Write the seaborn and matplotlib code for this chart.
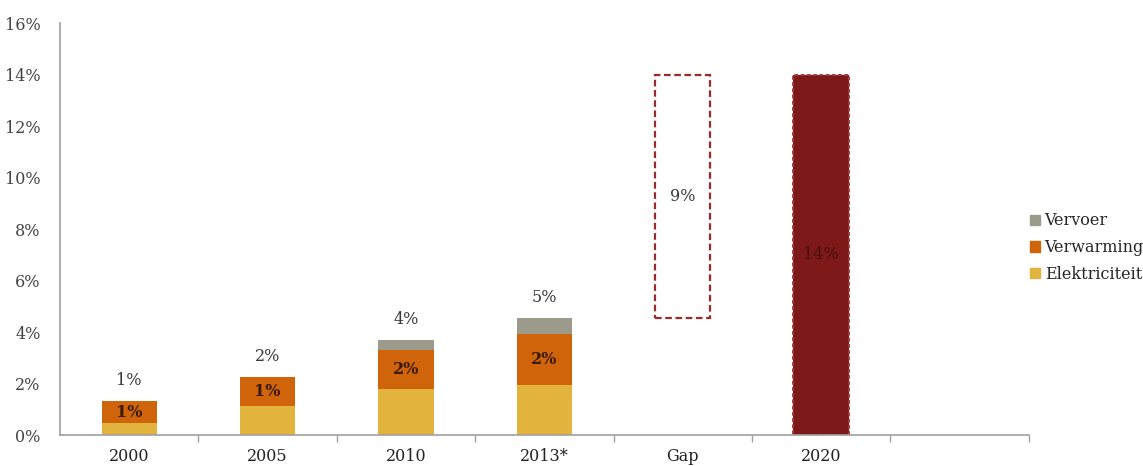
import matplotlib
matplotlib.use("Agg")
import matplotlib.pyplot as plt
from matplotlib.patches import Patch
from matplotlib.ticker import FixedLocator, PercentFormatter
import numpy as np
import pandas as pd
import seaborn as sns

# Share of renewable energy by sector (% of final energy use)
years = ["2000", "2005", "2010", "2013*"]
elektriciteit = [0.45, 1.14, 1.79, 1.94]
verwarming = [0.88, 1.12, 1.52, 1.98]
vervoer = [0.00, 0.00, 0.38, 0.63]
target_2020 = 14.0
categories = years + ["Gap", "2020"]

sns.set_theme(style="white")
plt.rcParams["font.family"] = ["DejaVu Serif", "DejaVu Sans"]

c_elek = "#E2B43E"
c_verw = "#D0640B"
c_verv = "#9C9A8B"
c_2020 = "#7D1919"
c_dash = "#9B2B2B"
txt = "#3A3A3A"

df = pd.DataFrame({"jaar": years, "Elektriciteit": elektriciteit,
                   "Verwarming": verwarming, "Vervoer": vervoer})
elek = np.array(elektriciteit)
verw = np.array(verwarming)
verv = np.array(vervoer)
totals = elek + verw + verv
current = totals[-1]
gap = target_2020 - current

fig = plt.figure(figsize=(11.43, 4.66), dpi=100)
ax = fig.add_axes([0.0525, 0.0665, 0.8475, 0.884])

bw = 0.4
sns.barplot(data=df, x="jaar", y="Elektriciteit", order=categories,
            color=c_elek, width=bw, saturation=1, ax=ax, linewidth=0)
sns.barplot(data=df, x="jaar", y="Verwarming", order=categories,
            color=c_verw, width=bw, saturation=1, ax=ax, linewidth=0,
            bottom=elek)
sns.barplot(data=df, x="jaar", y="Vervoer", order=categories,
            color=c_verv, width=bw, saturation=1, ax=ax, linewidth=0,
            bottom=elek + verw)

gap_df = pd.DataFrame({"jaar": ["Gap"], "waarde": [gap]})
sns.barplot(data=gap_df, x="jaar", y="waarde", order=categories,
            width=bw, fill=False, ax=ax, bottom=current,
            edgecolor=c_dash, linewidth=1.6, linestyle=(0, (3, 1.6)))
tgt_df = pd.DataFrame({"jaar": ["2020"], "waarde": [target_2020]})
sns.barplot(data=tgt_df, x="jaar", y="waarde", order=categories,
            color=c_2020, width=bw, saturation=1, ax=ax,
            edgecolor="#A8393B", linewidth=1.4, linestyle=(0, (2, 1.2)))

# value labels
for i, y in enumerate(years):
    ax.text(i, totals[i] + 0.45, f"{totals[i]:.0f}%", ha="center", va="bottom",
            fontsize=11.5, color=txt)
    ax.text(i, elek[i] + verw[i] / 2, f"{verw[i]:.0f}%", ha="center",
            va="center", fontsize=11.5, color="#3A1A08", fontweight="bold")
gi = categories.index("Gap")
ax.text(gi, current + gap / 2, f"{gap:.0f}%", ha="center", va="center",
        fontsize=11.5, color=txt)
ti = categories.index("2020")
ax.text(ti, target_2020 / 2, f"{target_2020:.0f}%", ha="center", va="center",
        fontsize=11.5, color="#4A0E0E")

ax.set_xlim(-0.5, len(categories) + 0.5)
ax.set_ylim(0, 16)
ax.yaxis.set_major_locator(FixedLocator(np.arange(0, 17, 2)))
ax.yaxis.set_major_formatter(PercentFormatter(decimals=0))
ax.set_xlabel("")
ax.set_ylabel("")
ax.set_xticks(range(len(categories)))
ax.set_xticklabels(categories)
ax.set_xticks(np.arange(0.5, len(categories) + 0.6, 1), minor=True)
ax.tick_params(axis="x", which="major", bottom=True, length=0, pad=9,
               labelsize=11.5, labelcolor="#222222")
ax.tick_params(axis="x", which="minor", bottom=True, length=5, width=1,
               color="#A0A0A0", direction="out")
ax.tick_params(axis="y", left=True, length=0, pad=14, labelsize=11.5,
               labelcolor="#444444")
for s in ["top", "right"]:
    ax.spines[s].set_visible(False)
for s in ["left", "bottom"]:
    ax.spines[s].set_color("#A0A0A0")
    ax.spines[s].set_linewidth(1.2)

handles = [Patch(color=c_verv, label="Vervoer"),
           Patch(color=c_verw, label="Verwarming"),
           Patch(color=c_elek, label="Elektriciteit")]
ax.legend(handles=handles, loc="center left", bbox_to_anchor=(0.995, 0.455),
          frameon=False, fontsize=11.5, handlelength=0.6, handleheight=0.6,
          handletextpad=0.3, labelspacing=0.6, borderaxespad=0)

fig.savefig("out.png", dpi=100)
